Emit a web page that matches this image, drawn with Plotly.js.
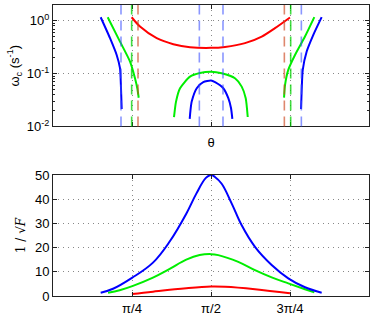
<!DOCTYPE html>
<html>
<head>
<meta charset="utf-8">
<script src="https://cdn.plot.ly/plotly-3.0.1.min.js"></script>
<style>html,body{margin:0;padding:0;background:#fff;}#chart{width:374px;height:316px;}</style>
</head>
<body>
<div id="chart"></div>
<script>
// ---- top panel: omega_c vs theta (log scale) ----
const thetaBlueL = [0.474, 0.567, 0.633, 0.666, 0.676, 0.683];
const omegaBlueL = [1.17, 0.47, 0.226, 0.127, 0.053, 0.0215];
const thetaGreenL = [0.544, 0.666, 0.766, 0.815, 0.838, 0.852];
const omegaGreenL = [1.17, 0.405, 0.169, 0.082, 0.053, 0.035];
const thetaRed = [0.782, 0.865, 1.031, 1.196, 1.362, 1.571, 1.710, 1.909, 2.075, 2.207, 2.356];
const omegaRed = [1.17, 0.78, 0.47, 0.362, 0.317, 0.308, 0.321, 0.378, 0.504, 0.727, 1.16];
const thetaGreenC = [1.203, 1.223, 1.263, 1.362, 1.461, 1.571, 1.677, 1.809, 1.876, 1.916, 1.936];
const omegaGreenC = [0.0151, 0.0296, 0.053, 0.088, 0.103, 0.109, 0.102, 0.082, 0.0569, 0.0343, 0.0151];
const thetaBlueC = [1.359, 1.367, 1.379, 1.429, 1.494, 1.571, 1.611, 1.693, 1.743, 1.770, 1.783];
const omegaBlueC = [0.0139, 0.0205, 0.0296, 0.053, 0.0689, 0.0739, 0.0689, 0.053, 0.0343, 0.0221, 0.0139];
const thetaGreenR = [2.297, 2.307, 2.339, 2.406, 2.505, 2.598];
const omegaGreenR = [0.0352, 0.0612, 0.118, 0.226, 0.504, 1.175];
const thetaBlueR = [2.466, 2.473, 2.483, 2.522, 2.588, 2.671];
const omegaBlueR = [0.0215, 0.053, 0.118, 0.262, 0.543, 1.175];

// asymptote positions (vertical dashed lines)
const asymBlue = [0.676, 1.455, 1.690, 2.469];
const asymRed = [0.845, 2.300];
const asymGreen = [0.782, 2.363];

// ---- bottom panel: 1/sqrt(F) vs theta ----
const thetaFBlue = [0.474, 0.597, 0.785, 0.994, 1.160, 1.325, 1.425, 1.520, 1.571, 1.610, 1.677, 1.777, 1.876, 2.008, 2.174, 2.339, 2.505, 2.671];
const valFBlue = [1.36, 3.0, 7.5, 13.8, 22.5, 34, 42.3, 48.8, 50, 49.2, 46.4, 38.2, 29.2, 20.3, 12.8, 7.3, 3.6, 1.36];
const thetaFGreen = [0.547, 0.663, 0.795, 0.994, 1.160, 1.325, 1.458, 1.571, 1.643, 1.842, 2.008, 2.174, 2.339, 2.505, 2.598];
const valFGreen = [1.36, 2.4, 4.2, 7.6, 11.2, 15.0, 16.9, 17.3, 16.9, 14.1, 10.7, 7.7, 5.2, 2.8, 1.5];
const thetaFRed = [0.785, 0.994, 1.325, 1.571, 1.710, 2.008, 2.356];
const valFRed = [0.82, 1.8, 3.2, 3.9, 3.8, 2.8, 1.1];

// ticks
const xTickVals = [Math.PI / 4, Math.PI / 2, 3 * Math.PI / 4];
const xTickText = ['\u03c0/4', '\u03c0/2', '3\u03c0/4'];
const yLogTickVals = [0.01, 0.1, 1];
const yLogTickText = ['10<sup>-2</sup>', '10<sup>-1</sup>', '10<sup>0</sup>'];
const yLogMinor = [0.02, 0.03, 0.04, 0.05, 0.06, 0.07, 0.08, 0.09, 0.2, 0.3, 0.4, 0.5, 0.6, 0.7, 0.8, 0.9, 2];
const yLinTickVals = [0, 10, 20, 30, 40, 50];

const BLUE = '#0000ff', GREEN = '#00ee00', RED = '#ff0000';

function line(x, y, color, xa, ya, sm) {
  return {x: x, y: y, xaxis: xa, yaxis: ya, type: 'scatter', mode: 'lines',
    line: {color: color, width: 2, shape: 'spline', smoothing: sm},
    showlegend: false, hoverinfo: 'skip'};
}

const traces = [
  line(thetaRed, omegaRed, RED, 'x', 'y', 0.8),
  line(thetaGreenL, omegaGreenL, GREEN, 'x', 'y', 0.6),
  line(thetaGreenC, omegaGreenC, GREEN, 'x', 'y', 0.6),
  line(thetaGreenR, omegaGreenR, GREEN, 'x', 'y', 0.6),
  line(thetaBlueL, omegaBlueL, BLUE, 'x', 'y', 0.6),
  line(thetaBlueC, omegaBlueC, BLUE, 'x', 'y', 0.6),
  line(thetaBlueR, omegaBlueR, BLUE, 'x', 'y', 0.6),
  line(thetaFRed, valFRed, RED, 'x2', 'y2', 1.1),
  line(thetaFGreen, valFGreen, GREEN, 'x2', 'y2', 1.1),
  line(thetaFBlue, valFBlue, BLUE, 'x2', 'y2', 1.1)
];

const shapes = [];
function vlines(arr, color) {
  arr.forEach(function (v) {
    shapes.push({type: 'line', xref: 'x', yref: 'y domain', x0: v, x1: v, y0: 0, y1: 1,
      line: {color: color, width: 1.6, dash: '10px,6px'}, layer: 'above'});
  });
}
vlines(asymBlue, 'rgba(60,80,255,0.6)');
vlines(asymRed, 'rgba(205,70,30,0.65)');
vlines(asymGreen, 'rgba(0,210,0,0.75)');

const tickFont = {family: 'Liberation Sans, Arial, sans-serif', size: 13, color: '#000'};
const axCommon = {
  showline: true, linecolor: '#222', linewidth: 1, mirror: 'ticks',
  ticks: 'inside', ticklen: 4, tickcolor: '#222', zeroline: false,
  showgrid: true, gridcolor: '#888', griddash: '1px,4px', gridwidth: 1,
  tickfont: tickFont
};

const layout = {
  width: 374, height: 316,
  margin: {l: 53, r: 5, t: 5, b: 20},
  paper_bgcolor: '#fff', plot_bgcolor: '#fff',
  font: tickFont,
  showlegend: false,
  xaxis: Object.assign({}, axCommon, {
    anchor: 'y', domain: [0, 1], range: [0, Math.PI],
    tickvals: xTickVals, showticklabels: false,
    title: {text: '\u03b8', font: {size: 13}, standoff: 11}
  }),
  yaxis: Object.assign({}, axCommon, {
    anchor: 'x', domain: [0.5825, 1], type: 'log', range: [-2, 0.3],
    tickvals: yLogTickVals, ticktext: yLogTickText,
    minor: {tickvals: yLogMinor, ticks: 'inside', ticklen: 2, tickcolor: '#222', showgrid: false},
    title: {text: '\u03c9<sub>c</sub> (s<sup>-1</sup>)', font: {size: 13}, standoff: 4}
  }),
  xaxis2: Object.assign({}, axCommon, {
    anchor: 'y2', domain: [0, 1], range: [0, Math.PI],
    tickvals: xTickVals, ticktext: xTickText
  }),
  yaxis2: Object.assign({}, axCommon, {
    anchor: 'x2', domain: [0, 0.4158], range: [0, 50],
    tickvals: yLinTickVals,
    title: {text: '1 / \u221a<i>F</i>', font: {family: 'DejaVu Serif, Liberation Serif, serif', size: 12}, standoff: 6}
  }),
  shapes: shapes
};

Plotly.newPlot('chart', traces, layout, {staticPlot: true, displayModeBar: false});
</script>
</body>
</html>
